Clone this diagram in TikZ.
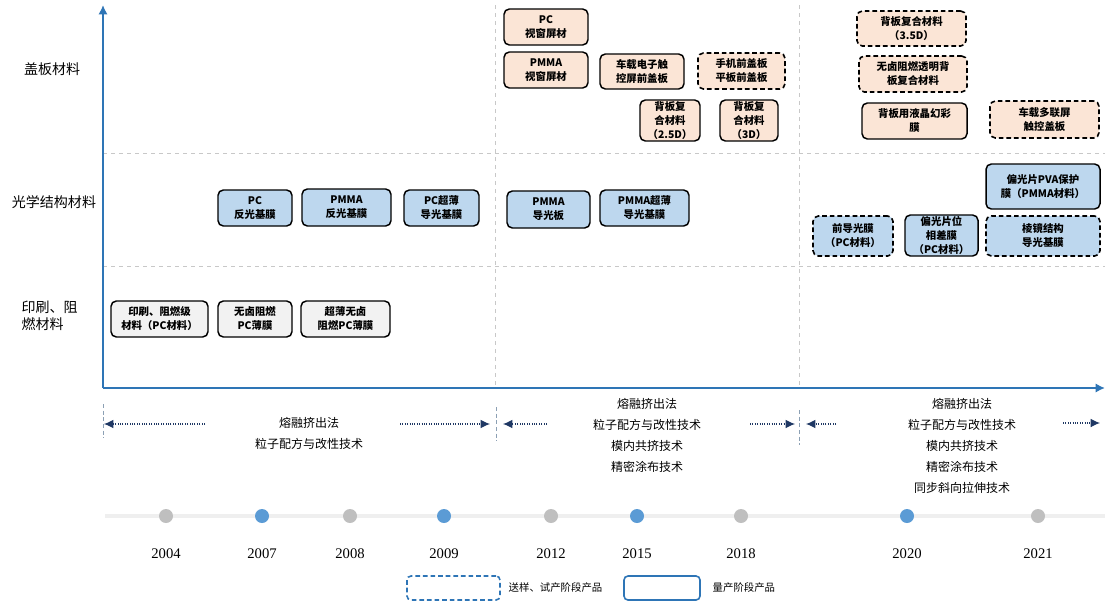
\documentclass[tikz,border=0pt]{standalone}
\usepackage{fontspec}
\setmainfont{Liberation Serif}
\newfontfamily\cjk{Noto Sans CJK SC}
\usepackage{xcolor}
\definecolor{coverfill}{RGB}{251,229,214}
\definecolor{opticfill}{RGB}{189,215,238}
\definecolor{printfill}{RGB}{242,242,242}
\definecolor{axisblue}{RGB}{46,117,182}
\definecolor{dotblue}{RGB}{91,155,213}
\definecolor{dotgray}{RGB}{191,191,191}
\definecolor{arrowblue}{RGB}{31,56,100}
\definecolor{gridgray}{RGB}{200,200,200}
\definecolor{tickgray}{RGB}{140,160,180}
\definecolor{trackgray}{RGB}{239,239,239}
\usetikzlibrary{arrows.meta}
\newcommand{\boxfont}{\cjk\bfseries\fontsize{7.8}{10.5}\selectfont}
\newcommand{\techfont}{\cjk\fontsize{9}{15.75}\selectfont}
\tikzset{
    common/.style={draw, line width=1.1pt, rounded corners=4pt, align=center, font=\boxfont, inner sep=1pt},
    boxsize/.style 2 args={minimum width=#1*0.75pt, minimum height=#2*0.75pt},
    cover/.style={common, fill=coverfill},
    optic/.style={common, fill=opticfill},
    printbox/.style={common, fill=printfill},
    trial/.style={dash pattern=on 3.5pt off 2.2pt, line width=1.2pt},
    rowlabel/.style={font=\cjk\fontsize{10.5}{13}\selectfont, align=left},
    techtext/.style={font=\techfont, align=center},
    techarrow/.style={-{Latex[length=7pt,width=6.5pt]}, densely dotted, arrowblue, line width=0.8pt},
    axisline/.style={axisblue, line width=1.5pt, -{Latex[length=7pt,width=7pt]}},
    bandtick/.style={densely dashed, tickgray, line width=0.7pt},
    gridline/.style={dashed, gridgray, line width=0.6pt},
    yeardot/.style={circle, minimum size=10.5pt, inner sep=0pt},
    yearlabel/.style={label distance=15.5pt, font=\fontsize{11}{13}\selectfont},
    legendbox/.style={draw=axisblue, line width=1.2pt, rounded corners=3pt, boxsize={#1}{24}},
    legendtext/.style={anchor=west, font=\cjk\fontsize{7.8}{9}\selectfont}
}
\begin{document}
\begin{tikzpicture}[x=0.75pt, y=-0.75pt]
  \useasboundingbox (0,0) rectangle (1105,603);

  \coordinate (origin) at (103,388);
  \coordinate (y-top) at (103,5);
  \coordinate (x-end) at (1105,388);

  \draw[gridline] (103,153) -- (1105,153) (103,266) -- (1105,266);
  \draw[gridline] (495,5) -- (495,385) (799,5) -- (799,385);
  \draw[axisline] (origin) -- (y-top);
  \draw[axisline] (origin) -- (x-end);

  \node[rowlabel] (lab-cover) at (52,69) {盖板材料};
  \node[rowlabel] (lab-optic) at (54,202) {光学结构材料};
  \node[rowlabel, anchor=west] (lab-print) at (17,315.5) {印刷、阻\\燃材料};

  \node[cover, boxsize={84}{36}] (pc-window) at (546,27) {PC\\视窗屏材};
  \node[cover, boxsize={84}{36}] (pmma-window) at (546,70) {PMMA\\视窗屏材};
  \node[cover, boxsize={84}{35}] (car-touch) at (642,71.5) {车载电子触\\控屏前盖板};
  \node[cover, trial, boxsize={87}{36}] (phone-cover) at (741.5,71) {手机前盖板\\平板前盖板};
  \node[cover, boxsize={60}{41}] (back-25d) at (670,120.5) {背板复\\合材料\\（2.5D）};
  \node[cover, boxsize={58}{41}] (back-3d) at (749,120.5) {背板复\\合材料\\（3D）};
  \node[cover, trial, boxsize={109}{35}] (back-35d) at (911.5,28.5) {背板复合材料\\（3.5D）};
  \node[cover, trial, boxsize={108}{36}] (halfree-back) at (913,74) {无卤阻燃透明背\\板复合材料};
  \node[cover, boxsize={105}{36}] (lc-film) at (914.5,121) {背板用液晶幻彩\\膜};
  \node[cover, trial, boxsize={109}{37}] (car-multi) at (1044.5,119.5) {车载多联屏\\触控盖板};

  \node[optic, boxsize={74}{36}] (pc-reflect) at (255,208) {PC\\反光基膜};
  \node[optic, boxsize={89}{37}] (pmma-reflect) at (346.5,207.5) {PMMA\\反光基膜};
  \node[optic, boxsize={75}{36}] (pc-thin) at (441.5,208) {PC超薄\\导光基膜};
  \node[optic, boxsize={83}{37}] (pmma-guide) at (548.5,209.5) {PMMA\\导光板};
  \node[optic, boxsize={89}{36}] (pmma-thin) at (644.5,208) {PMMA超薄\\导光基膜};
  \node[optic, boxsize={114}{45}] (pva-film) at (1043,186.5) {偏光片PVA保护\\膜（PMMA材料）};
  \node[optic, trial, boxsize={80}{40}] (front-guide) at (853,236) {前导光膜\\（PC材料）};
  \node[optic, boxsize={73}{41}] (retarder) at (941.5,235.5) {偏光片位\\相差膜\\（PC材料）};
  \node[optic, trial, boxsize={114}{40}] (prism-film) at (1043,236) {棱镜结构\\导光基膜};

  \node[printbox, boxsize={97}{36}] (print-pc) at (159.5,319) {印刷、阻燃级\\材料（PC材料）};
  \node[printbox, boxsize={74}{36}] (halfree-pc) at (255,319) {无卤阻燃\\PC薄膜};
  \node[printbox, boxsize={89}{36}] (thin-halfree) at (345.5,319) {超薄无卤\\阻燃PC薄膜};

  \draw[bandtick] (103,404) -- (103,438) (496,407) -- (496,441) (799,410) -- (799,445);
  \node[techtext] (tech-a) at (309,433) {熔融挤出法\\粒子配方与改性技术};
  \node[techtext] (tech-b) at (647,435) {熔融挤出法\\粒子配方与改性技术\\模内共挤技术\\精密涂布技术};
  \node[techtext] (tech-c) at (962,446) {熔融挤出法\\粒子配方与改性技术\\模内共挤技术\\精密涂布技术\\同步斜向拉伸技术};

  \coordinate (a-left) at (104,424);
  \coordinate (a-left-tail) at (205,424);
  \coordinate (a-right-tail) at (400,424);
  \coordinate (a-right) at (490,424);
  \coordinate (b-left) at (503,424);
  \coordinate (b-left-tail) at (547,424);
  \coordinate (b-right-tail) at (750,424);
  \coordinate (b-right) at (795,424);
  \coordinate (c-left) at (806,424);
  \coordinate (c-left-tail) at (836,424);
  \coordinate (c-right-tail) at (1063,423);
  \coordinate (c-right) at (1100,423);
  \draw[techarrow] (a-left-tail) -- (a-left);
  \draw[techarrow] (a-right-tail) -- (a-right);
  \draw[techarrow] (b-left-tail) -- (b-left);
  \draw[techarrow] (b-right-tail) -- (b-right);
  \draw[techarrow] (c-left-tail) -- (c-left);
  \draw[techarrow] (c-right-tail) -- (c-right);

  \coordinate (track-start) at (105,516);
  \coordinate (track-end) at (1105,516);
  \draw[trackgray, line width=3.5pt] (track-start) -- (track-end);
  \node[yeardot, fill=dotgray, label={[yearlabel]below:2004}] (y2004) at (166,516) {};
  \node[yeardot, fill=dotblue, label={[yearlabel]below:2007}] (y2007) at (262,516) {};
  \node[yeardot, fill=dotgray, label={[yearlabel]below:2008}] (y2008) at (350,516) {};
  \node[yeardot, fill=dotblue, label={[yearlabel]below:2009}] (y2009) at (444,516) {};
  \node[yeardot, fill=dotgray, label={[yearlabel]below:2012}] (y2012) at (551,516) {};
  \node[yeardot, fill=dotblue, label={[yearlabel]below:2015}] (y2015) at (637,516) {};
  \node[yeardot, fill=dotgray, label={[yearlabel]below:2018}] (y2018) at (741,516) {};
  \node[yeardot, fill=dotblue, label={[yearlabel]below:2020}] (y2020) at (907,516) {};
  \node[yeardot, fill=dotgray, label={[yearlabel]below:2021}] (y2021) at (1038,516) {};

  \node[legendbox=93, trial] (legend-trial) at (453.5,588) {};
  \node[legendtext] (legend-trial-text) at (504,588) {送样、试产阶段产品};
  \node[legendbox=76] (legend-mass) at (662,588) {};
  \node[legendtext] (legend-mass-text) at (708,588) {量产阶段产品};
\end{tikzpicture}
\end{document}
